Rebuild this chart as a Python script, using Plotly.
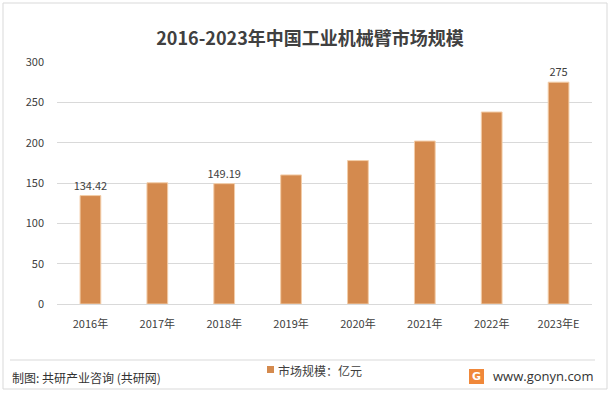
import plotly.graph_objects as go

categories = ["2016年", "2017年", "2018年", "2019年", "2020年", "2021年", "2022年", "2023年E"]
values = [134.42, 150.3, 149.19, 160.0, 177.8, 202.0, 238.0, 275]
labels = ["134.42", "", "149.19", "", "", "", "", "275"]
y_ticks = [0, 50, 100, 150, 200, 250, 300]

W, H = 612, 396
L, R, T, B = 57, 20, 62, 92

FONT = "Noto Sans CJK SC, Microsoft YaHei, sans-serif"
TXT = "#404040"
BAR = "#D48A4E"

fig = go.Figure()
fig.add_trace(go.Bar(
    x=categories, y=values, name="市场规模：亿元",
    marker=dict(color=BAR, line=dict(color="#F3CDA8", width=1)),
    text=labels, textposition="outside", cliponaxis=False, constraintext="none",
    textfont=dict(size=11, color=TXT, family=FONT),
    width=0.31,
))

pw = W - L - R
ph = H - T - B


def qx(x):
    return (x - L) / pw


def qy(y):
    return (H - B - y) / ph


fig.update_layout(
    width=W, height=H,
    margin=dict(l=L, r=R, t=T, b=B),
    paper_bgcolor="white", plot_bgcolor="white",
    font=dict(family=FONT, size=11, color=TXT),
    showlegend=False,
    xaxis=dict(showgrid=False, showline=False, ticks="", ticklabelstandoff=12,
               tickfont=dict(size=11, color=TXT)),
    yaxis=dict(range=[0, 300], tickvals=y_ticks, showgrid=True, gridcolor="#D9D9D9",
               gridwidth=1, zeroline=True, zerolinecolor="#D9D9D9", zerolinewidth=1,
               showline=False, ticks="", ticklabelstandoff=12,
               tickfont=dict(size=11, color=TXT)),
    title=dict(text="<b>2016-2023年中国工业机械臂市场规模</b>", x=310 / W, xanchor="center",
               y=1 - 39 / H, yanchor="middle", font=dict(size=18, color=TXT, family=FONT)),
    shapes=[
        dict(type="rect", xref="paper", yref="paper", x0=qx(3), x1=qx(607), y0=qy(389), y1=qy(3),
             line=dict(color="#D9D9D9", width=1), fillcolor="rgba(0,0,0,0)", layer="below"),
        dict(type="line", xref="paper", yref="paper", x0=qx(10), x1=qx(595), y0=qy(360), y1=qy(360),
             line=dict(color="#D9D9D9", width=1)),
        dict(type="rect", xref="paper", yref="paper", x0=qx(267), x1=qx(274), y0=qy(373), y1=qy(366),
             line=dict(width=0), fillcolor=BAR),
        dict(type="rect", xref="paper", yref="paper", x0=qx(469), x1=qx(484), y0=qy(384), y1=qy(369),
             line=dict(width=0), fillcolor="#F0883A"),
    ],
    annotations=[
        dict(text="市场规模：亿元", x=qx(276), y=qy(370), xref="paper", yref="paper",
             xanchor="left", yanchor="middle", showarrow=False, font=dict(size=12, color=TXT)),
        dict(text="制图: 共研产业咨询 (共研网)", x=qx(10), y=qy(377), xref="paper", yref="paper",
             xanchor="left", yanchor="middle", showarrow=False, font=dict(size=12, color="#333333")),
        dict(text="www.gonyn.com", x=qx(595), y=qy(376), xref="paper", yref="paper",
             xanchor="right", yanchor="middle", showarrow=False,
             font=dict(size=13, color="#333333", family="Open Sans, sans-serif")),
        dict(text="<b>G</b>", x=qx(476.5), y=qy(376.5), xref="paper", yref="paper",
             xanchor="center", yanchor="middle", showarrow=False,
             font=dict(size=11, color="white", family="DejaVu Sans, sans-serif")),
    ],
)

fig.write_html("out.html", config={"displayModeBar": False},
               post_script="document.body.style.margin='0';")
